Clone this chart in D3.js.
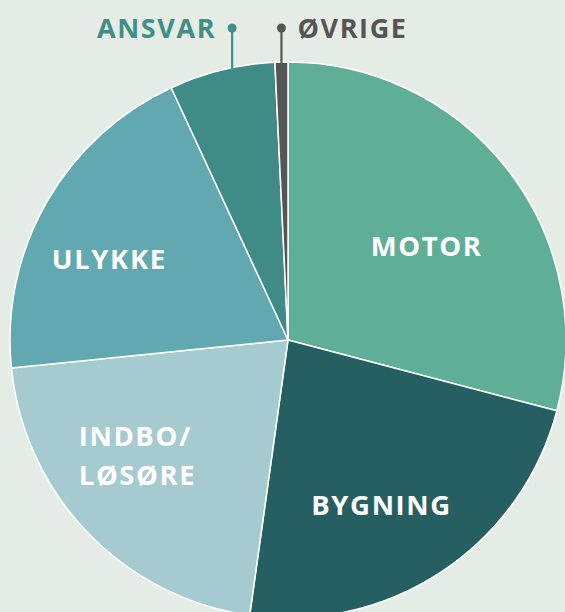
<!DOCTYPE html>
<html>
<head>
<meta charset="utf-8">
<script src="https://cdn.jsdelivr.net/npm/d3@7"></script>
<style>
  html, body { margin: 0; padding: 0; background: #e5ece5; overflow: hidden; }
  svg { display: block; }
  text { font-family: "Open Sans", "Noto Sans", sans-serif; font-weight: 700; }
</style>
</head>
<body>
<div id="chart"></div>
<script>
// data
var categories = ["MOTOR", "BYGNING", "INDBO/LØSØRE", "ULYKKE", "ANSVAR", "ØVRIGE"];
var shares = [29.1, 23.1, 21.2, 19.7, 6.15, 0.75];
var labelLines = [["MOTOR"], ["BYGNING"], ["INDBO/", "LØSØRE"], ["ULYKKE"], ["ANSVAR"], ["ØVRIGE"]];

var W = 565, H = 612;
var cx = 288, cy = 340, R = 278;

var colors = ["#5fae97", "#265f62", "#a5cbd0", "#61a8b0", "#3f8c86", "#555555"];
// label nudges (inside labels) and callouts (outside labels)
var inside = {0: [-8, 20], 1: [-9, 12], 2: [4, -12], 3: [-18, 12]};

var svg = d3.select("#chart").append("svg")
	.attr("width", W)
	.attr("height", H);

var dataset = categories.map(function(c, i) {
	return {name: c, value: shares[i], lines: labelLines[i], color: colors[i]};
});

var pie = d3.pie().sort(null).value(function(d) { return d.value; });
var arc = d3.arc().innerRadius(0).outerRadius(R);
var labelArc = d3.arc().innerRadius(185).outerRadius(185);

var g = svg.append("g").attr("transform", "translate(" + cx + "," + cy + ")");
var arcs = pie(dataset);

g.selectAll("path.slice")
	.data(arcs)
	.enter()
	.append("path")
	.attr("class", "slice")
	.attr("d", arc)
	.attr("fill", function(d) { return d.data.color; })
	.attr("stroke", "#ffffff")
	.attr("stroke-width", 1.5)
	.attr("stroke-linejoin", "round");

// inside labels
arcs.forEach(function(d, i) {
	if (!inside[i]) return;
	var c = labelArc.centroid(d);
	var n = d.data.lines.length;
	var t = g.append("text")
		.attr("fill", "#ffffff")
		.attr("font-size", 27.5)
		.attr("letter-spacing", 1.6)
		.attr("text-anchor", n > 1 ? "start" : "middle");
	d.data.lines.forEach(function(line, k) {
		t.append("tspan")
			.attr("x", c[0] + inside[i][0] + (n > 1 ? -80 : 0))
			.attr("y", c[1] + inside[i][1] + (k - (n - 1) / 2) * 39 + 9)
			.text(line);
	});
});

// outside callouts
var callouts = {4: {da: 0.038, side: -1}, 5: {da: 0, side: 1}};
var labelY = 28 - cy;
arcs.forEach(function(d, i) {
	var co = callouts[i];
	if (!co) return;
	var a = (d.startAngle + d.endAngle) / 2 + co.da;
	var x = R * Math.sin(a);
	var y = -R * Math.cos(a);
	var col = i === 5 ? "#555555" : "#3f8e87";
	g.append("line")
		.attr("x1", x).attr("x2", x)
		.attr("y1", y + 6).attr("y2", labelY)
		.attr("stroke", col)
		.attr("stroke-width", 2.2);
	g.append("circle")
		.attr("cx", x).attr("cy", labelY)
		.attr("r", 4.5)
		.attr("fill", col);
	g.append("text")
		.attr("x", x + co.side * 16)
		.attr("y", labelY + 10)
		.attr("text-anchor", co.side < 0 ? "end" : "start")
		.attr("font-size", 27)
		.attr("letter-spacing", 1.6)
		.attr("fill", col)
		.text(d.data.name);
});
</script>
</body>
</html>
